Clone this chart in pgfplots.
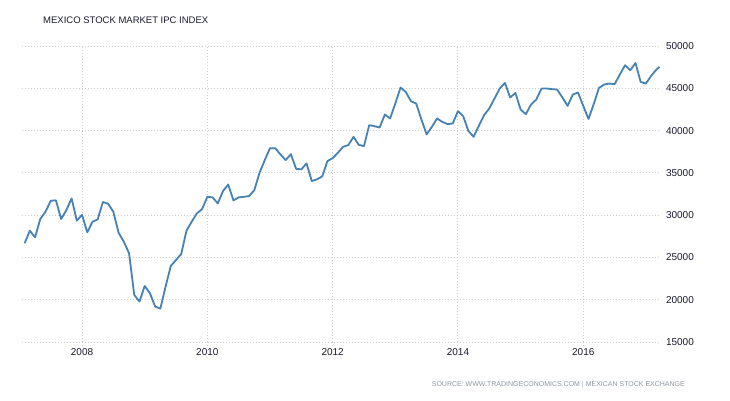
\documentclass[border=0pt]{standalone}
\usepackage{pgfplots}
\pgfplotsset{compat=1.18}
\usepackage{fontspec}
\setmainfont{Liberation Sans}
\definecolor{lineblue}{HTML}{4682B4}
\definecolor{gridgray}{HTML}{CFCFCF}
\definecolor{srcgray}{HTML}{8F97A3}
\definecolor{labeldark}{HTML}{1A1A2E}
\begin{document}
\begin{tikzpicture}[x=1pt,y=1pt]
\fill[white] (0,0) rectangle (730,400);
\begin{axis}[
  at={(22pt,58pt)}, anchor=south west,
  scale only axis, width=638pt, height=296pt,
  xmin=-0.5, xmax=121.7, ymin=15000, ymax=50000,
  scaled y ticks=false,
  axis line style={draw=none},
  xtick={11,35,59,83,107},
  xticklabels={2008,2010,2012,2014,2016},
  ytick={15000,20000,25000,30000,35000,40000,45000,50000},
  yticklabels={15000,20000,25000,30000,35000,40000,45000,50000},
  yticklabel pos=right,
  xtick pos=bottom,
  tick align=outside,
  major tick length=4pt,
  xtick style={gridgray, dash pattern=on 1pt off 2pt, line width=1pt},
  ytick style={draw=none},
  grid=major,
  major grid style={gridgray, dash pattern=on 1pt off 2pt, line width=1pt},
  ticklabel style={font=\fontsize{10}{12}\selectfont, text=labeldark},
  yticklabel style={anchor=west, xshift=-1.5pt},
  xticklabel style={yshift=1pt},
  clip=false,
]
\addplot[lineblue, line width=1.8pt, line join=round] coordinates {
(0,26670)(1,28160)(2,27380)(3,29540)(4,30400)(5,31700)(6,31750)(7,29540)(8,30600)(9,31980)
(10,29340)(11,30050)(12,27970)(13,29220)(14,29500)(15,31550)(16,31350)(17,30400)(18,27920)(19,26860)
(20,25500)(21,20570)(22,19780)(23,21630)(24,20770)(25,19190)(26,18950)(27,21550)(28,23990)(29,24700)
(30,25410)(31,28160)(32,29220)(33,30210)(34,30720)(35,32170)(36,32100)(37,31390)(38,32850)(39,33620)
(40,31740)(41,32100)(42,32170)(43,32260)(44,32960)(45,35010)(46,36510)(47,37920)(48,37920)(49,37180)
(50,36510)(51,37210)(52,35480)(53,35410)(54,36120)(55,34030)(56,34230)(57,34580)(58,36390)(59,36740)
(60,37370)(61,38080)(62,38280)(63,39260)(64,38310)(65,38160)(66,40640)(67,40520)(68,40360)(69,41900)
(70,41430)(71,43200)(72,45090)(73,44570)(74,43470)(75,43200)(76,41310)(77,39540)(78,40440)(79,41430)
(80,41030)(81,40760)(82,40840)(83,42290)(84,41700)(85,39960)(86,39260)(87,40560)(88,41820)(89,42610)
(90,43790)(91,44970)(92,45630)(93,43910)(94,44450)(95,42490)(96,41940)(97,43080)(98,43670)(99,44970)
(100,44970)(101,44900)(102,44850)(103,43910)(104,42920)(105,44260)(106,44500)(107,42920)(108,41380)(109,43120)
(110,45040)(111,45440)(112,45560)(113,45480)(114,46620)(115,47720)(116,47130)(117,47990)(118,45750)(119,45560)
(120,46460)(121,47210)(121.6,47520)
};
\end{axis}
\node[anchor=base west, inner sep=0pt, text=labeldark, font=\fontsize{9.5}{11}\selectfont] at (43,376) {MEXICO STOCK MARKET IPC INDEX};
\node[anchor=base east, inner sep=0pt, text=srcgray, font=\fontsize{7}{9}\selectfont] at (685,13.5) {SOURCE: WWW.TRADINGECONOMICS.COM \textcolor{lineblue!60}{|} MEXICAN STOCK EXCHANGE};
\end{tikzpicture}
\end{document}
